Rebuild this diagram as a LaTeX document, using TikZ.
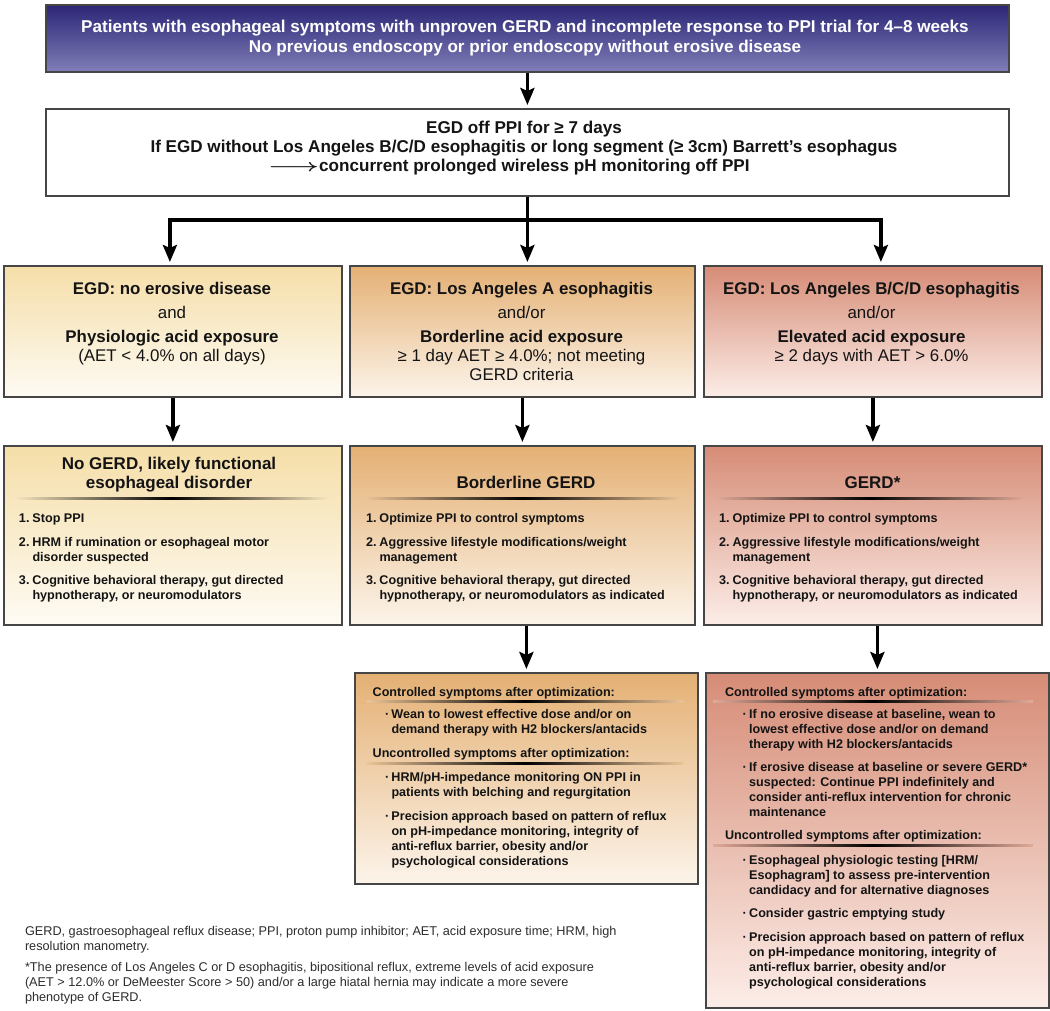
\documentclass[tikz,border=0pt]{standalone}
\usepackage{fontspec}
\setmainfont{Liberation Sans}
\usepackage{graphicx}
\usetikzlibrary{arrows.meta}

\definecolor{topA}{RGB}{44,38,118}
\definecolor{topB}{RGB}{128,126,184}
\definecolor{yelA}{RGB}{245,222,168}
\definecolor{yelB}{RGB}{254,251,244}
\definecolor{orA}{RGB}{228,176,116}
\definecolor{orB}{RGB}{252,244,234}
\definecolor{salA}{RGB}{214,140,118}
\definecolor{salB}{RGB}{252,237,232}
\definecolor{edge}{RGB}{70,70,70}
\definecolor{ink}{RGB}{20,20,20}
\definecolor{noteink}{RGB}{45,45,45}

\newcommand{\myfs}[2]{\fontsize{#1}{#2}\selectfont}
\newcommand{\numit}[1]{\makebox[13.5pt][l]{#1}}
\newcommand{\mybul}{\makebox[6.5pt][l]{·}}

\begin{document}
\begin{tikzpicture}[x=1pt,y=-1pt,
  box/.style={draw=edge, line width=1.8pt, inner sep=0pt, anchor=north west},
  arr/.style={line width=3.5pt, draw=black, shorten >=3pt, -{Stealth[length=17pt,width=14pt,inset=3pt]}},
  plain/.style={line width=3.5pt, draw=black},
  txt/.style={inner sep=0pt, outer sep=0pt, text=ink},
  tb/.style={txt, text=white, font=\bfseries\myfs{17.1}{20}, align=center, anchor=base},
  sb/.style={txt, font=\bfseries\myfs{17.1}{19}, align=center, anchor=base},
  rowa/.style={txt, font=\myfs{16.9}{19}, align=center, anchor=base},
  rowb/.style={txt, font=\bfseries\myfs{17}{19}, align=center, anchor=base},
  lst/.style={txt, font=\bfseries\myfs{12.6}{15}, align=left, anchor=base west},
  note/.style={txt, text=noteink, font=\myfs{12.7}{15}, align=left, anchor=base west},
  ruley/.style={left color=yelA!70!yelB, right color=yelA!70!yelB, middle color=black},
  ruleo/.style={left color=orA!70!orB, right color=orA!70!orB, middle color=black},
  rules/.style={left color=salA!70!salB, right color=salA!70!salB, middle color=black}
]
\fill[white] (0,0) rectangle (1050,1010);
\useasboundingbox (0,0) rectangle (1050,1010);

% boxes
\node[box, top color=topA, bottom color=topB, minimum width=963pt, minimum height=67pt] (top) at (45,4) {};
\node[box, fill=white, minimum width=963pt, minimum height=87pt] (sec) at (45,108) {};
\node[box, top color=yelA, bottom color=yelB, minimum width=338pt, minimum height=131pt] (r1a) at (3,265) {};
\node[box, top color=orA, bottom color=orB, minimum width=345pt, minimum height=131pt] (r1b) at (349,265) {};
\node[box, top color=salA, bottom color=salB, minimum width=338pt, minimum height=131pt] (r1c) at (703,265) {};
\node[box, top color=yelA, bottom color=yelB, minimum width=338pt, minimum height=179pt] (r2a) at (3,445) {};
\node[box, top color=orA, bottom color=orB, minimum width=345pt, minimum height=179pt] (r2b) at (349,445) {};
\node[box, top color=salA, bottom color=salB, minimum width=338pt, minimum height=179pt] (r2c) at (703,445) {};
\node[box, top color=orA, bottom color=orB, minimum width=343pt, minimum height=211pt] (r3b) at (354,672) {};
\node[box, top color=salA, bottom color=salB, minimum width=343pt, minimum height=335pt] (r3c) at (705,672) {};

% connectors
\draw[arr] (top.south) -- (sec.north);
\coordinate (br) at ([yshift=-23pt]sec.south);
\draw[plain] (sec.south) -- (br);
\draw[arr, line join=miter] (br) -| ([xshift=-3pt]r1a.north);
\draw[arr, line join=miter] (br) -| ([xshift=8pt]r1c.north);
\draw[arr] (br) -- (br |- r1b.north);
\draw[arr] (r1a.south) -- (r2a.north);
\draw[arr] (r1b.south) -- (r2b.north);
\draw[arr] (r1c.south) -- (r2c.north);
\draw[arr] (r3b.north |- r2b.south) -- (r3b.north);
\draw[arr] (r3c.north |- r2c.south) -- (r3c.north);

% top texts (anchor = baseline of the last line)
\node[tb] (t1) at (525,52.5) {Patients with esophageal symptoms with unproven GERD and incomplete response to PPI trial for 4–8 weeks\\No previous endoscopy or prior endoscopy without erosive disease};
\node[sb] (s1) at (524,152.5) {EGD off PPI for ≥ 7 days\\If EGD without Los Angeles B/C/D esophagitis or long segment (≥ 3cm) Barrett’s esophagus};
\node[sb, anchor=base west] (s2) at (268,171.5) {\scalebox{1.6}[1]{\boldmath$\longrightarrow$}concurrent prolonged wireless pH monitoring off PPI};

% row 1
\node[rowa] (x1) at (172,361) {\textbf{EGD: no erosive disease}\\[5pt]and\\[5pt]\textbf{Physiologic acid exposure}\\(AET < 4.0\% on all days)};
\node[rowa] (x2) at (521.5,380) {\textbf{EGD: Los Angeles A esophagitis}\\[5pt]and/or\\[5pt]\textbf{Borderline acid exposure}\\≥ 1 day AET ≥ 4.0\%; not meeting\\GERD criteria};
\node[rowa] (x3) at (871.5,361) {\textbf{EGD: Los Angeles B/C/D esophagitis}\\[5pt]and/or\\[5pt]\textbf{Elevated acid exposure}\\≥ 2 days with AET > 6.0\%};

% row 2
\node[rowb] (y1) at (169,488) {No GERD, likely functional\\esophageal disorder};
\node[rowb] (y2) at (526,488) {Borderline GERD};
\node[rowb] (y3) at (872.5,488) {GERD*};
\shade[ruley] (15,497) rectangle (328,499.5);
\shade[ruleo] (365,497) rectangle (680,499.5);
\shade[rules] (715,497) rectangle (1025,499.5);

\node[lst] (z1) at (19,599.5) {\numit{1.}Stop PPI\\[9pt]\numit{2.}HRM if rumination or esophageal motor\\\hspace*{13.5pt}disorder suspected\\[8pt]\numit{3.}Cognitive behavioral therapy, gut directed\\\hspace*{13.5pt}hypnotherapy, or neuromodulators};
\node[lst] (z2) at (366,599.5) {\numit{1.}Optimize PPI to control symptoms\\[9pt]\numit{2.}Aggressive lifestyle modifications/weight\\\hspace*{13.5pt}management\\[8pt]\numit{3.}Cognitive behavioral therapy, gut directed\\\hspace*{13.5pt}hypnotherapy, or neuromodulators as indicated};
\node[lst] (z3) at (719,599.5) {\numit{1.}Optimize PPI to control symptoms\\[9pt]\numit{2.}Aggressive lifestyle modifications/weight\\\hspace*{13.5pt}management\\[8pt]\numit{3.}Cognitive behavioral therapy, gut directed\\\hspace*{13.5pt}hypnotherapy, or neuromodulators as indicated};

% row 3, box b
\node[lst] (h4a) at (372.7,696) {Controlled symptoms after optimization:};
\shade[ruleo] (367,700.5) rectangle (683,702.8);
\node[lst] (l4a) at (385,733.5) {\mybul Wean to lowest effective dose and/or on\\\hspace*{6.5pt}demand therapy with H2 blockers/antacids};
\node[lst] (h4b) at (372.7,757) {Uncontrolled symptoms after optimization:};
\shade[ruleo] (367,762) rectangle (683,764.3);
\node[lst] (l4b) at (385,865) {\mybul HRM/pH-impedance monitoring ON PPI in\\\hspace*{6.5pt}patients with belching and regurgitation\\[9pt]\mybul Precision approach based on pattern of reflux\\\hspace*{6.5pt}on pH-impedance monitoring, integrity of\\\hspace*{6.5pt}anti-reflux barrier, obesity and/or\\\hspace*{6.5pt}psychological considerations};

% row 3, box c
\node[lst] (h5a) at (725,696.5) {Controlled symptoms after optimization:};
\shade[rules] (713,700) rectangle (1033,702.3);
\node[lst] (l5a) at (742.7,816) {\mybul If no erosive disease at baseline, wean to\\\hspace*{6.5pt}lowest effective dose and/or on demand\\\hspace*{6.5pt}therapy with H2 blockers/antacids\\[7.5pt]\mybul If erosive disease at baseline or severe GERD*\\\hspace*{6.5pt}suspected: Continue PPI indefinitely and\\\hspace*{6.5pt}consider anti-reflux intervention for chronic\\\hspace*{6.5pt}maintenance};
\node[lst] (h5b) at (725,839.5) {Uncontrolled symptoms after optimization:};
\shade[rules] (713,844) rectangle (1033,846.3);
\node[lst] (l5b) at (742.7,986) {\mybul Esophageal physiologic testing [HRM/\\\hspace*{6.5pt}Esophagram] to assess pre-intervention\\\hspace*{6.5pt}candidacy and for alternative diagnoses\\[8pt]\mybul Consider gastric emptying study\\[8.5pt]\mybul Precision approach based on pattern of reflux\\\hspace*{6.5pt}on pH-impedance monitoring, integrity of\\\hspace*{6.5pt}anti-reflux barrier, obesity and/or\\\hspace*{6.5pt}psychological considerations};

% footnotes
\node[note] (f1) at (25,950.5) {GERD, gastroesophageal reflux disease; PPI, proton pump inhibitor; AET, acid exposure time; HRM, high\\resolution manometry.};
\node[note] (f2) at (25,1001.5) {*The presence of Los Angeles C or D esophagitis, bipositional reflux, extreme levels of acid exposure\\(AET > 12.0\% or DeMeester Score > 50) and/or a large hiatal hernia may indicate a more severe\\phenotype of GERD.};
\end{tikzpicture}
\end{document}
